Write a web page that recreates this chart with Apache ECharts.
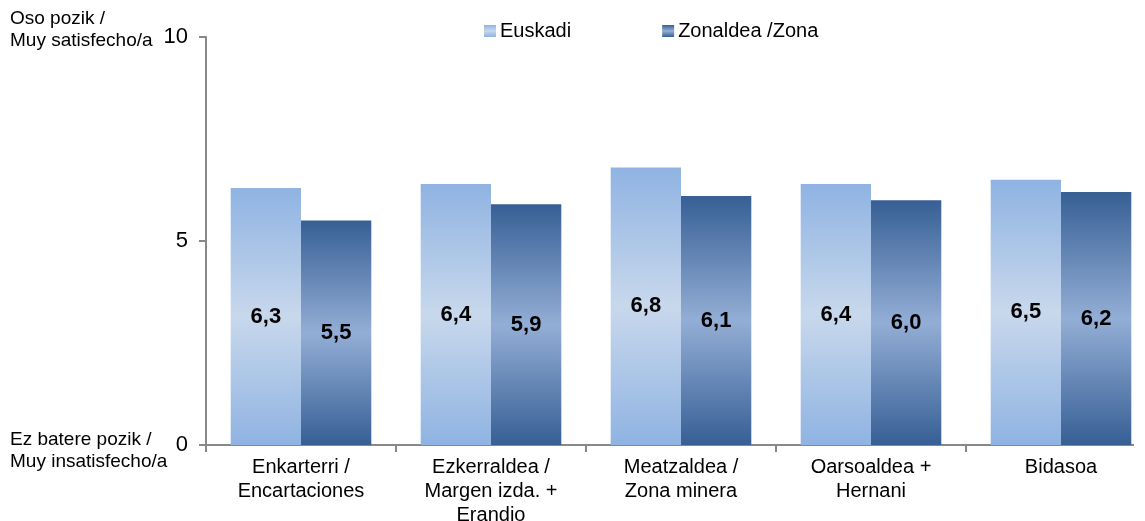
<!DOCTYPE html>
<html>
<head>
<meta charset="utf-8">
<script src="https://cdn.jsdelivr.net/npm/echarts@6/dist/echarts.min.js"></script>
<style>
  html, body { margin: 0; padding: 0; background: #fff; }
  #chart { width: 1145px; height: 521px; }
</style>
</head>
<body>
<div id="chart"></div>
<script>
// categories and values
const categories = [
    'Enkarterri /\nEncartaciones',
    'Ezkerraldea /\nMargen izda. +\nErandio',
    'Meatzaldea /\nZona minera',
    'Oarsoaldea +\nHernani',
    'Bidasoa'
];
const euskadi = [6.3, 6.4, 6.8, 6.4, 6.5];
const zona = [5.5, 5.9, 6.1, 6.0, 6.2];

const font = 'Liberation Sans, Arial, sans-serif';

function grad(edge, mid) {
    return new echarts.graphic.LinearGradient(0, 0, 0, 1, [
        { offset: 0, color: edge },
        { offset: 0.5, color: mid },
        { offset: 1, color: edge }
    ]);
}

let labelStyle = {
    show: true,
    position: 'inside',
    color: '#000',
    fontFamily: font,
    fontWeight: 'bold',
    fontSize: 22,
    formatter: p => p.value.toFixed(1).replace('.', ',')
};

let option = {
    animation: false,
    grid: { left: 206, width: 950, top: 37, bottom: 76, outerBoundsMode: 'none' },
    legend: {
        top: 16,
        left: 479,
        itemWidth: 12,
        itemHeight: 12,
        itemGap: 91,
        icon: 'rect',
        textStyle: { color: '#000', fontFamily: font, fontSize: 20, padding: [0, 0, 0, -1] },
        data: ['Euskadi', 'Zonaldea /Zona']
    },
    xAxis: {
        type: 'category',
        data: categories,
        axisLine: { lineStyle: { color: '#888', width: 2 } },
        axisTick: { show: true, length: 7, lineStyle: { color: '#888', width: 2 } },
        axisLabel: { color: '#000', fontFamily: font, fontSize: 20, lineHeight: 24, margin: 10 }
    },
    yAxis: {
        type: 'value',
        min: 0,
        max: 10,
        interval: 5,
        splitLine: { show: false },
        axisLine: { show: true, lineStyle: { color: '#888', width: 2 } },
        axisTick: { show: true, length: 7, lineStyle: { color: '#888', width: 2 } },
        axisLabel: { color: '#000', fontFamily: font, fontSize: 22, margin: 18 }
    },
    graphic: [
        {
            type: 'text', left: 10, top: 8,
            style: { text: 'Oso pozik /\nMuy satisfecho/a', fill: '#000', font: '19px ' + font, lineHeight: 22 }
        },
        {
            type: 'text', left: 10, top: 429,
            style: { text: 'Ez batere pozik /\nMuy insatisfecho/a', fill: '#000', font: '19px ' + font, lineHeight: 22 }
        },
        {
            // the axis line stops at the last bar in the original
            type: 'rect', left: 1134, top: 440, z: 100,
            shape: { width: 20, height: 12 },
            style: { fill: '#fff' }
        }
    ],
    series: [
        {
            name: 'Euskadi',
            type: 'bar',
            data: euskadi,
            barGap: '0%',
            barCategoryGap: '26%',
            itemStyle: { color: grad('#8FB3E2', '#C8D8EC') },
            label: labelStyle
        },
        {
            name: 'Zonaldea /Zona',
            type: 'bar',
            data: zona,
            itemStyle: { color: grad('#375F94', '#93AED6') },
            label: labelStyle
        }
    ]
};

let chart = echarts.init(document.getElementById('chart'));
chart.setOption(option);
</script>
</body>
</html>
